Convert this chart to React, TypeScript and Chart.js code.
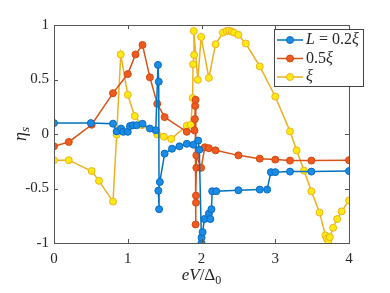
import React, { useEffect, useRef } from "react";
import { Chart, registerables } from "chart.js";

Chart.register(...registerables);

const blueX = [0, 0.5, 0.8, 0.85, 0.91, 0.94, 1.0, 1.03, 1.07, 1.12, 1.2, 1.3, 1.38, 1.41, 1.42, 1.425, 1.415, 1.435, 1.5, 1.6, 1.7, 1.8, 1.89, 1.955, 1.97, 2.0, 2.0, 2.015, 2.04, 2.1, 2.12, 2.135, 2.145, 2.2, 2.5, 2.79, 2.89, 2.94, 3.0, 3.2, 3.49, 4.0];
const blueY = [0.1, 0.1, 0.095, 0.024, 0.05, 0.02, 0.02, 0.073, 0.08, 0.08, 0.094, 0.05, 0.035, 0.634, 0.48, -0.69, -0.52, -0.44, -0.18, -0.135, -0.113, -0.09, -0.098, -0.06, -0.144, -1.0, -0.95, -0.9, -0.78, -0.73, -0.78, -0.69, -0.525, -0.525, -0.516, -0.51, -0.51, -0.35, -0.35, -0.345, -0.345, -0.34];

const orangeX = [0, 0.2, 0.51, 0.8, 1.0, 1.105, 1.2, 1.3, 1.4, 1.5, 1.8, 1.905, 1.91, 1.915, 1.92, 1.92, 1.925, 1.925, 1.93, 1.93, 1.995, 2.045, 2.1, 2.19, 2.5, 2.79, 3.0, 3.2, 3.49, 4.0];
const orangeY = [-0.113, -0.073, 0.085, 0.375, 0.55, 0.73, 0.817, 0.52, 0.277, 0.155, 0.02, 0.033, 0.137, 0.258, 0.314, -0.83, -0.63, -0.565, -0.31, -0.196, -0.31, -0.122, -0.13, -0.15, -0.196, -0.226, -0.235, -0.244, -0.244, -0.24];

const yellowX = [0, 0.2, 0.51, 0.61, 0.8, 0.85, 0.905, 1.0, 1.095, 1.195, 1.4, 1.49, 1.59, 1.8, 1.855, 1.88, 1.885, 1.9, 1.895, 1.95, 1.995, 2.1, 2.19, 2.29, 2.34, 2.375, 2.41, 2.44, 2.5, 2.6, 2.79, 3.0, 3.2, 3.29, 3.39, 3.49, 3.6, 3.68, 3.7, 3.72, 3.74, 3.785, 3.84, 3.9, 4.0];
const yellowY = [-0.24, -0.24, -0.34, -0.43, -0.62, -0.005, 0.73, 0.36, 0.165, 0.08, -0.004, -0.025, -0.045, 0.076, 0.085, 0.33, 0.64, 0.725, 0.945, 0.497, 0.89, 0.515, 0.823, 0.93, 0.945, 0.948, 0.94, 0.93, 0.91, 0.83, 0.62, 0.344, 0.024, -0.15, -0.336, -0.525, -0.72, -0.93, -0.96, -0.98, -0.946, -0.86, -0.78, -0.71, -0.61];

const xTicks = [0, 1, 2, 3, 4];
const yTicks = [-1, -0.5, 0, 0.5, 1];
const yTickLabels = ["-1", "-0.5", "0", "0.5", "1"];

const seriesNames = ["L = 0.2ξ", "0.5ξ", "ξ"];

const SERIF = '"Liberation Serif", "DejaVu Serif", serif';
const AXIS_COLOR = "#555555";

type Part = { t: string; italic?: boolean; sub?: boolean };

function drawRich(ctx: CanvasRenderingContext2D, parts: Part[], x: number, y: number, size: number, align: "left" | "center") {
  const fontOf = (p: Part) => `${p.italic ? "italic " : ""}${p.sub ? Math.round(size * 0.7) : size}px ${SERIF}`;
  let total = 0;
  for (const p of parts) {
    ctx.font = fontOf(p);
    total += ctx.measureText(p.t).width;
  }
  let cx = align === "center" ? x - total / 2 : x;
  ctx.textBaseline = "middle";
  ctx.textAlign = "left";
  for (const p of parts) {
    ctx.font = fontOf(p);
    ctx.fillText(p.t, cx, p.sub ? y + size * 0.28 : y);
    cx += ctx.measureText(p.t).width;
  }
}

const colors = [
  { line: "#0072BD", fill: "#1A8CE6", border: "#0A6CC0" },
  { line: "#D95319", fill: "#F05A1E", border: "#D24A12" },
  { line: "#EDB120", fill: "#FFEA12", border: "#EDB120" },
];

const decorPlugin = {
  id: "decor",
  afterDraw(chart: any) {
    const ctx: CanvasRenderingContext2D = chart.ctx;
    const { left, right, top, bottom } = chart.chartArea;
    const xs = chart.scales.x;
    const ys = chart.scales.y;
    ctx.save();
    // frame
    ctx.strokeStyle = AXIS_COLOR;
    ctx.lineWidth = 1;
    ctx.strokeRect(Math.round(left) + 0.5, Math.round(top) + 0.5, Math.round(right - left), Math.round(bottom - top));
    // inward ticks
    const tl = 4;
    ctx.beginPath();
    for (const v of xTicks) {
      const px = Math.round(xs.getPixelForValue(v)) + 0.5;
      ctx.moveTo(px, bottom);
      ctx.lineTo(px, bottom - tl);
      ctx.moveTo(px, top);
      ctx.lineTo(px, top + tl);
    }
    for (const v of yTicks) {
      const py = Math.round(ys.getPixelForValue(v)) + 0.5;
      ctx.moveTo(left, py);
      ctx.lineTo(left + tl, py);
      ctx.moveTo(right, py);
      ctx.lineTo(right - tl, py);
    }
    ctx.stroke();

    // axis labels
    ctx.fillStyle = "#262626";
    drawRich(ctx, [{ t: "eV", italic: true }, { t: "/" }, { t: "Δ" }, { t: "0", sub: true }], (left + right) / 2, 276, 17, "center");
    ctx.save();
    ctx.translate(21, (top + bottom) / 2);
    ctx.rotate(-Math.PI / 2);
    drawRich(ctx, [{ t: "η", italic: true }, { t: "s", italic: true, sub: true }], 0, 0, 18, "center");
    ctx.restore();

    // legend
    const bx = right - 75;
    const by = top + 4;
    const bw = 89;
    const bh = 57;
    ctx.fillStyle = "#ffffff";
    ctx.fillRect(bx, by, bw, bh);
    ctx.strokeStyle = "#444444";
    ctx.strokeRect(Math.round(bx) + 0.5, Math.round(by) + 0.5, bw, bh);
    const rows: Part[][] = [
      [{ t: "L", italic: true }, { t: " = 0.2" }, { t: "ξ", italic: true }],
      [{ t: "0.5" }, { t: "ξ", italic: true }],
      [{ t: "ξ", italic: true }],
    ];
    rows.forEach((parts, i) => {
      const ry = by + 11 + i * 18.5;
      const c = colors[i];
      ctx.strokeStyle = c.line;
      ctx.lineWidth = 1.5;
      ctx.beginPath();
      ctx.moveTo(bx + 3, ry);
      ctx.lineTo(bx + 29, ry);
      ctx.stroke();
      ctx.beginPath();
      ctx.arc(bx + 16, ry, 3.5, 0, Math.PI * 2);
      ctx.fillStyle = c.fill;
      ctx.fill();
      ctx.lineWidth = 1;
      ctx.strokeStyle = c.border;
      ctx.stroke();
      ctx.fillStyle = "#262626";
      drawRich(ctx, parts, bx + 32, ry, 16, "left");
    });
    ctx.restore();
  },
};

function toPoints(xs: number[], ys: number[]) {
  return xs.map((x, i) => ({ x, y: ys[i] }));
}

export default function App() {
  const ref = useRef<HTMLCanvasElement | null>(null);
  useEffect(() => {
    if (!ref.current) return;
    const sets = [
      toPoints(blueX, blueY),
      toPoints(orangeX, orangeY),
      toPoints(yellowX, yellowY),
    ];
    const chart = new Chart(ref.current, {
      type: "line",
      data: {
        datasets: sets.map((d, i) => ({
          label: seriesNames[i],
          data: d,
          borderColor: colors[i].line,
          borderWidth: 1.5,
          pointRadius: 3.5,
          pointBackgroundColor: colors[i].fill,
          pointBorderColor: colors[i].border,
          pointBorderWidth: 1,
          tension: 0,
          fill: false,
        })),
      },
      options: {
        animation: false,
        responsive: false,
        maintainAspectRatio: false,
        layout: { padding: { left: 0, right: 41, top: 25, bottom: 0 } },
        plugins: { legend: { display: false }, tooltip: { enabled: false }, title: { display: false } },
        scales: {
          x: {
            type: "linear",
            min: 0,
            max: 4,
            grid: { display: false, drawTicks: false },
            border: { display: false },
            afterFit: (s: any) => { s.height = 50; },
            afterBuildTicks: (s: any) => { s.ticks = xTicks.map((v) => ({ value: v })); },
            ticks: {
              padding: 7,
              color: "#262626",
              font: { family: SERIF, size: 15 },
              callback: (v: any) => String(v),
            },
          },
          y: {
            type: "linear",
            min: -1,
            max: 1,
            grid: { display: false, drawTicks: false },
            border: { display: false },
            afterFit: (s: any) => { s.width = 54; },
            afterBuildTicks: (s: any) => { s.ticks = yTicks.map((v) => ({ value: v })); },
            ticks: {
              padding: 5,
              color: "#262626",
              font: { family: SERIF, size: 15 },
              callback: (v: any) => {
                const i = yTicks.indexOf(Number(v));
                return i >= 0 ? yTickLabels[i] : "";
              },
            },
          },
        },
      },
      plugins: [decorPlugin],
    } as any);
    return () => chart.destroy();
  }, []);
  return (
    <div style={{ position: "fixed", left: 0, top: 0, width: 390, height: 293, background: "#fff" }}>
      <canvas ref={ref} width={390} height={293} style={{ width: 390, height: 293, display: "block" }} />
    </div>
  );
}
